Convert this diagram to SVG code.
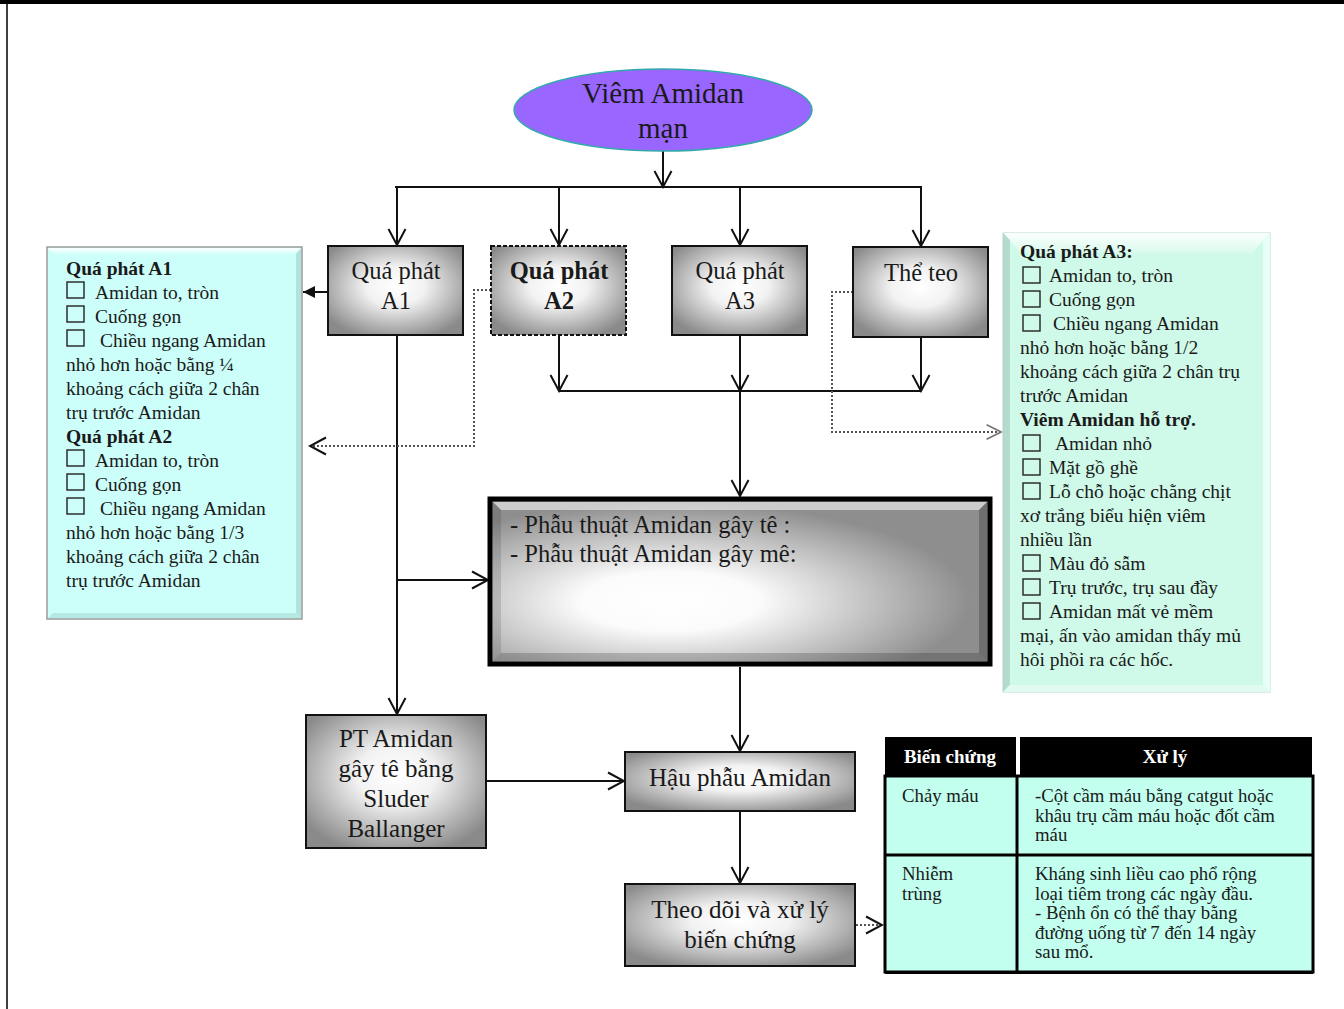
<svg xmlns="http://www.w3.org/2000/svg" width="1344" height="1009" viewBox="0 0 1344 1009">
<defs>
<style>
text{font-family:"Liberation Serif","Times New Roman",serif;fill:#1a1a1a}
.bt{font-size:24.5px;text-anchor:middle}
.bt2{font-size:25px;text-anchor:middle}
.st{font-size:19.5px}
.tt{font-size:18.8px}
.b{font-weight:bold}
.gbox{fill:url(#gg);stroke:#111;stroke-width:2}
.cb{fill:none;stroke:#222;stroke-width:1.4}
.ln{fill:none;stroke:#111;stroke-width:2}
.dt{fill:none;stroke:#555;stroke-width:2;stroke-dasharray:2 2}
</style>
<radialGradient id="gg" cx="0.5" cy="0.45" r="0.62">
<stop offset="0" stop-color="#ffffff"/>
<stop offset="0.35" stop-color="#f2f2f2"/>
<stop offset="1" stop-color="#8a8a8a"/>
</radialGradient>
<radialGradient id="gbig" cx="0.36" cy="0.62" r="0.6">
<stop offset="0" stop-color="#ffffff"/>
<stop offset="0.3" stop-color="#fbfbfb"/>
<stop offset="1" stop-color="#8e8e8e"/>
</radialGradient>
<linearGradient id="topw" x1="0" y1="0" x2="0" y2="1">
<stop offset="0" stop-color="#ffffff" stop-opacity="0.95"/>
<stop offset="1" stop-color="#ffffff" stop-opacity="0.2"/>
</linearGradient>
<marker id="ah" viewBox="0 0 20 20" refX="18" refY="10" markerWidth="20" markerHeight="20" markerUnits="userSpaceOnUse" orient="auto">
<path d="M2,1.5 L18,10 L2,18.5" fill="none" stroke="#111" stroke-width="2"/>
</marker>
<marker id="ahg" viewBox="0 0 20 20" refX="18" refY="10" markerWidth="18" markerHeight="18" markerUnits="userSpaceOnUse" orient="auto">
<path d="M2,2 L18,10 L2,18" fill="none" stroke="#777" stroke-width="2"/>
</marker>
<marker id="af" viewBox="0 0 14 14" refX="13" refY="7" markerWidth="14" markerHeight="14" markerUnits="userSpaceOnUse" orient="auto">
<path d="M1,1 L13,7 L1,13 z" fill="#111"/>
</marker>
</defs>

<rect x="0" y="0" width="1344" height="1009" fill="#ffffff"/>
<g id="frame">
<rect x="0" y="0" width="1344" height="4" fill="#000"/>
<line x1="7" y1="0" x2="7" y2="1009" stroke="#000" stroke-width="1.5"/>
</g>

<g id="connectors">
<line class="ln" x1="663" y1="150" x2="663" y2="187" marker-end="url(#ah)"/>
<line class="ln" x1="395" y1="187" x2="922" y2="187"/>
<line class="ln" x1="397" y1="187" x2="397" y2="245" marker-end="url(#ah)"/>
<line class="ln" x1="559" y1="187" x2="559" y2="245" marker-end="url(#ah)"/>
<line class="ln" x1="740" y1="187" x2="740" y2="245" marker-end="url(#ah)"/>
<line class="ln" x1="921" y1="187" x2="921" y2="246" marker-end="url(#ah)"/>
<line class="ln" x1="327" y1="292" x2="303" y2="292" marker-end="url(#af)"/>
<line class="ln" x1="397" y1="336" x2="397" y2="714" marker-end="url(#ah)"/>
<line class="ln" x1="397" y1="580" x2="488" y2="580" marker-end="url(#ah)"/>
<polyline class="dt" points="491,290 474,290 474,446 310,446" marker-end="url(#ah)"/>
<line class="ln" x1="559" y1="336" x2="559" y2="391" marker-end="url(#ah)"/>
<line class="ln" x1="740" y1="336" x2="740" y2="391" marker-end="url(#ah)"/>
<line class="ln" x1="921" y1="337" x2="921" y2="391" marker-end="url(#ah)"/>
<line class="ln" x1="559" y1="391" x2="921" y2="391"/>
<line class="ln" x1="740" y1="391" x2="740" y2="496" marker-end="url(#ah)"/>
<polyline class="dt" points="853,292 832,292 832,432 1001,432" marker-end="url(#ahg)"/>
<line class="ln" x1="740" y1="667" x2="740" y2="751" marker-end="url(#ah)"/>
<line class="ln" x1="486" y1="781" x2="624" y2="781" marker-end="url(#ah)"/>
<line class="ln" x1="740" y1="811" x2="740" y2="883" marker-end="url(#ah)"/>
<line class="dt" x1="856" y1="925" x2="882" y2="925" marker-end="url(#ah)"/>
</g>

<g id="n-viem">
<ellipse cx="663" cy="110" rx="149" ry="41" fill="#9966ff" stroke="#33aaaa" stroke-width="1.5"/>
<text x="663" y="103" font-size="29" text-anchor="middle">Viêm Amidan</text>
<text x="663" y="138" font-size="29" text-anchor="middle">mạn</text>
</g>

<g id="n-a1">
<rect class="gbox" x="328" y="246" width="135" height="89"/>
<text class="bt" x="396" y="279">Quá phát</text>
<text class="bt" x="396" y="309">A1</text>
</g>
<g id="n-a2">
<rect class="gbox" x="491" y="246" width="135" height="89" stroke-dasharray="4 2"/>
<text class="bt b" x="559" y="279">Quá phát</text>
<text class="bt b" x="559" y="309">A2</text>
</g>
<g id="n-a3">
<rect class="gbox" x="672" y="246" width="135" height="89"/>
<text class="bt" x="740" y="279">Quá phát</text>
<text class="bt" x="740" y="309">A3</text>
</g>
<g id="n-teo">
<rect class="gbox" x="853" y="247" width="135" height="90"/>
<text class="bt" x="921" y="281">Thể teo</text>
</g>

<g id="n-left">
<rect x="47" y="247" width="255" height="372" fill="#ccfff9" stroke="#9a9a9a" stroke-width="1.5"/>
<polygon points="48,248 301,248 296,254 53,254" fill="url(#topw)"/>
<polygon points="301,248 301,618 296,613 296,254" fill="#9fcfcb" opacity="0.6"/>
<polygon points="48,618 301,618 296,613 53,613" fill="#a9d9d4" opacity="0.6"/>
<text class="st b" x="66" y="275">Quá phát A1</text>
<rect class="cb" x="67" y="282" width="17" height="16"/>
<text class="st" x="95" y="299">Amidan to, tròn</text>
<rect class="cb" x="67" y="306" width="17" height="16"/>
<text class="st" x="95" y="323">Cuống gọn</text>
<rect class="cb" x="67" y="330" width="17" height="16"/>
<text class="st" x="100" y="347">Chiều ngang Amidan</text>
<text class="st" x="66" y="371">nhỏ hơn hoặc bằng ¼</text>
<text class="st" x="66" y="395">khoảng cách giữa 2 chân</text>
<text class="st" x="66" y="419">trụ trước Amidan</text>
<text class="st b" x="66" y="443">Quá phát A2</text>
<rect class="cb" x="67" y="450" width="17" height="16"/>
<text class="st" x="95" y="467">Amidan to, tròn</text>
<rect class="cb" x="67" y="474" width="17" height="16"/>
<text class="st" x="95" y="491">Cuống gọn</text>
<rect class="cb" x="67" y="498" width="17" height="16"/>
<text class="st" x="100" y="515">Chiều ngang Amidan</text>
<text class="st" x="66" y="539">nhỏ hơn hoặc bằng 1/3</text>
<text class="st" x="66" y="563">khoảng cách giữa 2 chân</text>
<text class="st" x="66" y="587">trụ trước Amidan</text>
</g>

<g id="n-right">
<rect x="1003" y="233" width="267" height="459" fill="#cff9e8" stroke="#b8d8cc" stroke-width="1"/>
<polygon points="1003,233 1270,233 1252,253 1021,253" fill="url(#topw)"/>
<polygon points="1003,233 1010,240 1010,685 1003,692" fill="#a8cfc0" opacity="0.7"/>
<polygon points="1270,233 1263,240 1263,685 1270,692" fill="#e8fff6"/>
<polygon points="1003,692 1270,692 1263,685 1010,685" fill="#e2fbf1"/>
<text class="st b" x="1020" y="258">Quá phát A3:</text>
<rect class="cb" x="1023" y="267" width="17" height="16"/>
<text class="st" x="1049" y="282">Amidan to, tròn</text>
<rect class="cb" x="1023" y="291" width="17" height="16"/>
<text class="st" x="1049" y="306">Cuống gọn</text>
<rect class="cb" x="1023" y="315" width="17" height="16"/>
<text class="st" x="1053" y="330">Chiều ngang Amidan</text>
<text class="st" x="1020" y="354">nhỏ hơn hoặc bằng 1/2</text>
<text class="st" x="1020" y="378">khoảng cách giữa 2 chân trụ</text>
<text class="st" x="1020" y="402">trước Amidan</text>
<text class="st b" x="1020" y="426">Viêm Amidan hỗ trợ.</text>
<rect class="cb" x="1023" y="435" width="17" height="16"/>
<text class="st" x="1055" y="450">Amidan nhỏ</text>
<rect class="cb" x="1023" y="459" width="17" height="16"/>
<text class="st" x="1049" y="474">Mặt gồ ghề</text>
<rect class="cb" x="1023" y="483" width="17" height="16"/>
<text class="st" x="1049" y="498">Lỗ chỗ hoặc chằng chịt</text>
<text class="st" x="1020" y="522">xơ trắng biểu hiện viêm</text>
<text class="st" x="1020" y="546">nhiều lần</text>
<rect class="cb" x="1023" y="555" width="17" height="16"/>
<text class="st" x="1049" y="570">Màu đỏ sẫm</text>
<rect class="cb" x="1023" y="579" width="17" height="16"/>
<text class="st" x="1049" y="594">Trụ trước, trụ sau đầy</text>
<rect class="cb" x="1023" y="603" width="17" height="16"/>
<text class="st" x="1049" y="618">Amidan mất vẻ mềm</text>
<text class="st" x="1020" y="642">mại, ấn vào amidan thấy mủ</text>
<text class="st" x="1020" y="666">hôi phồi ra các hốc.</text>
</g>

<g id="n-phauthuat">
<rect x="490" y="499" width="500" height="165" fill="url(#gbig)" stroke="#000" stroke-width="5"/>
<polygon points="493,502 987,502 979,510 501,510" fill="#ffffff" opacity="0.55"/>
<polygon points="493,661 987,661 979,653 501,653" fill="#000" opacity="0.18"/>
<polygon points="493,502 501,510 501,653 493,661" fill="#000" opacity="0.12"/>
<polygon points="987,502 979,510 979,653 987,661" fill="#000" opacity="0.22"/>
<text x="510" y="533" font-size="24.5">- Phẫu thuật Amidan gây tê :</text>
<text x="510" y="562" font-size="24.5">- Phẫu thuật Amidan gây mê:</text>
</g>

<g id="n-pt">
<rect class="gbox" x="306" y="715" width="180" height="133"/>
<text class="bt2" x="396" y="747">PT Amidan</text>
<text class="bt2" x="396" y="777">gây tê bằng</text>
<text class="bt2" x="396" y="807">Sluder</text>
<text class="bt2" x="396" y="837">Ballanger</text>
</g>

<g id="n-hau">
<rect class="gbox" x="625" y="752" width="230" height="59"/>
<text class="bt2" x="740" y="786">Hậu phẫu Amidan</text>
</g>

<g id="n-theodoi">
<rect class="gbox" x="625" y="884" width="230" height="82"/>
<text class="bt2" x="740" y="918">Theo dõi và xử lý</text>
<text class="bt2" x="740" y="948">biến chứng</text>
</g>

<g id="n-table">
<rect x="885" y="737" width="131" height="38" fill="#000"/>
<rect x="1020" y="737" width="292" height="38" fill="#000"/>
<text class="b" font-size="19" x="950" y="763" text-anchor="middle" style="fill:#fff">Biến chứng</text>
<text class="b" font-size="19" x="1165" y="763" text-anchor="middle" style="fill:#fff">Xử lý</text>
<rect x="885" y="776" width="428" height="196" fill="#c2ffee" stroke="#000" stroke-width="3"/>
<line x1="885" y1="855" x2="1313" y2="855" stroke="#000" stroke-width="3"/>
<line x1="1017" y1="776" x2="1017" y2="972" stroke="#000" stroke-width="3"/>
<line x1="885" y1="973" x2="1313" y2="973" stroke="#000" stroke-width="2"/>
<text class="tt" x="902" y="802">Chảy máu</text>
<text class="tt" x="1035" y="802">-Cột cầm máu bằng catgut hoặc</text>
<text class="tt" x="1035" y="821.5">khâu trụ cầm máu hoặc đốt cầm</text>
<text class="tt" x="1035" y="841">máu</text>
<text class="tt" x="902" y="880">Nhiễm</text>
<text class="tt" x="902" y="900">trùng</text>
<text class="tt" x="1035" y="880">Kháng sinh liều cao phổ rộng</text>
<text class="tt" x="1035" y="899.5">loại tiêm trong các ngày đầu.</text>
<text class="tt" x="1035" y="919">- Bệnh ổn có thể thay bằng</text>
<text class="tt" x="1035" y="938.5">đường uống từ 7 đến 14 ngày</text>
<text class="tt" x="1035" y="958">sau mổ.</text>
</g>
</svg>
